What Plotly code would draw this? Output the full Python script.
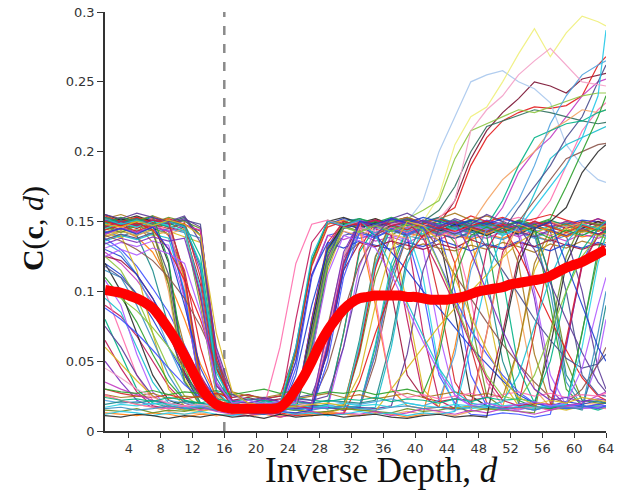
import plotly.graph_objects as go

# Inverse-depth samples at which the cost curves were read (every 2nd bin + last)
d_values = [1, 3, 5, 7, 9, 11, 13, 15, 17, 19, 21, 23, 25, 27, 29, 31, 33, 35, 37, 39, 41,
            43, 45, 47, 49, 51, 53, 55, 57, 59, 61, 63, 64]

# Per-pixel cost curves C(c, d), in units of 1e-3
curves_high = [
    [148,152,150,153,149,151,140,55, 20,17,18,16,60,122,148,152, 150,147,150,146,149,152,148,145, 150,147,149,146,150,148,151,150, 149],
    [142,138,145,140,143,139,135,45, 18,15,17,16,19,55,115,145, 150,146,148,143,147,144,140,138, 90,35,18,16,17,15,18,16, 17],
    [150,147,152,149,151,145,95,28, 17,16,18,15,17,19,60,125, 150,148,152,146,150,148,165,195, 215,228,238,250,247,242,252,255, 256],
    [138,130,118,102,85,62,38,24, 12,11,13,12,45,110,140,143, 138,141,145,139,100,40,20,12, 11,13,12,10,12,60,120,145, 150],
    [152,149,153,150,140,115,60,22, 18,16,17,19,16,18,17,70, 130,150,148,152,149,153,160,190, 210,222,228,232,231,233,240,262, 268],
    [145,149,146,150,147,151,148,45, 24,26,23,25,24,26,55,120, 148,145,150,147,151,148,146,150, 147,149,145,148,143,100,40,26, 25],
    [147,151,148,152,150,95,30,18, 16,17,15,16,17,80,135,150, 147,151,148,152,145,95,35,18, 16,17,19,70,130,148,145,150, 148],
    [140,144,139,128,108,80,48,25, 13,11,12,10,13,11,12,13, 60,120,148,142,139,144,140,137, 141,138,143,140,136,142,139,141, 140],
    [149,146,150,147,148,100,35,19, 17,16,18,15,17,70,130,148, 145,150,152,150,165,200,225,250, 255,258,250,245,235,205,190,180, 178],
    [150,153,149,145,100,35,18,16, 17,19,16,18,17,60,122,150, 147,152,148,150,146,151,149,145, 148,140,90,30,17,18,20,19, 20],
    [146,150,148,135,105,60,25,18, 16,17,15,18,16,17,75,125, 135,132,136,130,134,131,129,133, 130,135,132,128,134,131,136,133, 135],
    [151,148,152,149,153,150,145,50, 19,16,17,15,18,16,17,16, 55,110,140,147,143,148,135,80, 25,17,16,18,15,17,70,125, 140],
    [128,120,108,92,72,50,30,21, 17,15,16,14,50,112,140,137, 141,136,139,135,140,137,142,138, 145,160,185,200,210,225,240,250, 252],
    [153,150,140,115,75,35,20,17, 16,18,15,17,16,19,17,16, 65,125,148,145,149,143,147,144, 148,145,142,147,144,149,146,143, 145],
    [144,148,145,150,146,143,105,28, 22,24,21,23,22,65,128,150, 147,148,100,40,24,21,23,22, 24,70,125,148,150,145,150,148, 147],
    [139,143,140,145,141,110,35,20, 17,16,18,15,17,16,62,125, 146,142,147,144,140,145,141,146, 143,147,144,145,90,30,18,17, 18],
    [150,152,148,151,149,153,140,48, 19,17,16,18,17,55,118,146, 150,147,152,149,150,158,175,200, 218,222,226,230,228,225,222,220, 221],
    [147,143,148,145,149,144,90,26, 17,15,18,16,15,17,16,18, 17,60,115,145,148,143,147,150, 146,149,144,148,151,147,143,148, 146],
    [155,151,154,150,120,40,19,17, 16,15,17,16,55,120,150,153, 149,152,148,151,147,140,85,25, 18,16,17,19,60,120,145,150, 148],
    [142,146,143,147,144,105,32,19, 16,18,17,15,18,70,128,148, 151,147,150,146,149,152,148,151, 147,150,153,150,165,190,215,230, 235],
    [148,151,147,150,146,148,125,45, 18,16,17,15,18,16,17,15, 58,118,146,150,147,152,148,151, 150,110,45,20,17,16,18,15, 17],
    [143,139,144,141,145,142,138,50, 18,17,15,16,18,16,60,118, 142,139,143,140,137,141,138,143, 140,137,142,139,136,140,143,141, 140],
    [90,82,68,50,32,20,16,17, 15,16,18,17,15,80,132,150, 147,151,148,140,70,22,16,18, 70,128,150,146,149,145,150,147, 148],
    [136,140,137,141,138,100,28,18, 16,15,17,19,16,18,17,16, 17,62,120,145,141,146,142,139, 144,140,145,170,195,205,210,215, 218],
    [151,147,152,148,150,146,115,35, 17,16,18,15,16,62,124,148, 151,147,150,153,148,152,149,145, 150,147,140,95,30,18,17,19, 20],
    [140,144,141,145,110,38,18,16, 17,15,18,16,17,16,62,126, 145,148,144,147,150,168,205,225, 232,250,270,288,268,285,297,293, 290],
    [146,150,147,151,148,152,146,55, 21,17,16,18,15,17,58,120, 145,149,146,150,147,143,148,145, 149,146,150,147,143,140,100,45, 30],
    [131,135,132,136,133,95,30,18, 16,17,15,18,16,17,19,16, 60,118,140,137,130,70,25,18, 16,17,15,18,16,17,19,50, 80],
    [120,112,98,80,60,40,26,20, 17,16,15,17,50,112,135,131, 136,133,130,135,132,137,133,129, 134,131,136,132,129,134,131,135, 133],
    [145,140,115,70,30,18,16,17, 15,17,16,18,17,72,130,149, 146,150,145,90,30,17,16,18, 15,17,60,115,140,145,142,146, 144],
    [148,144,149,146,150,147,98,27, 18,16,17,15,17,19,16,18, 16,50,105,140,146,142,147,143, 148,145,150,165,180,195,200,205, 206],
    [141,145,142,146,143,98,31,19, 17,16,15,17,18,78,133,146, 143,147,144,148,145,145,100,40, 18,16,17,15,18,16,17,19, 18],
    [154,150,153,149,152,148,143,52, 19,16,17,15,18,16,17,16, 57,116,150,153,149,152,148,154, 150,153,149,152,155,151,148,152, 150],
    [137,141,138,142,112,42,19,17, 16,15,17,18,16,68,122,140, 143,139,144,140,145,141,138,142, 146,143,160,175,190,210,225,250, 262],
    [144,147,143,148,145,149,110,33, 18,16,17,15,16,17,64,124, 146,150,147,151,148,150,120,60, 20,17,16,18,15,65,120,140, 142],
    [150,146,151,148,152,108,33,19, 17,15,16,18,56,120,148,151, 145,90,30,18,16,17,60,120, 145,148,144,149,146,150,147,143, 145],
    [135,128,112,88,60,35,20,17, 15,18,16,17,16,18,60,121, 146,142,147,143,148,144,140,145, 141,146,142,138,143,147,144,140, 142],
    [139,143,140,144,141,145,92,26, 17,16,18,15,17,68,125,143, 140,145,141,138,143,139,144,148, 165,180,190,200,215,222,230,228, 230],
    [152,155,151,154,150,112,34,18, 16,17,15,18,16,17,16,19, 62,124,150,153,149,152,156,151, 154,150,120,55,20,17,16,18, 17],
    [146,142,147,143,105,36,18,17, 15,16,18,17,16,75,131,147, 143,148,144,149,145,141,146,142, 147,143,148,145,110,50,22,20, 20],
    [141,145,142,146,143,147,144,58, 20,17,15,16,18,16,17,15, 18,55,112,140,144,140,145,141, 138,143,139,144,140,136,141,138, 140],
    [153,149,152,148,151,147,118,38, 19,17,16,15,17,60,120,150, 152,148,151,147,150,153,149,150, 110,50,20,17,16,18,15,60, 90],
    [125,122,112,95,70,42,24,17, 16,18,15,17,16,18,58,115, 135,132,136,133,130,134,131,137, 133,130,135,132,137,133,130,134, 132],
    [110,96,78,55,35,22,18,15, 16,18,17,15,17,70,127,149, 145,150,146,151,147,143,148,145, 150,146,151,148,152,175,200,225, 240],
    [145,149,146,150,147,143,102,29, 17,16,18,15,17,16,18,16, 62,120,148,145,110,45,18,16, 17,15,18,16,17,19,16,18, 17],
    [149,153,150,154,122,45,20,16, 17,15,18,16,58,122,151,148, 152,149,153,150,147,151,148,145, 140,70,22,17,16,18,70,130, 145],
]

curves_mid = [
    [120,100,70,40,22,18,16,17, 15,17,16,18,16,75,130,148, 145,149,146,142,147,143,148,144, 140,145,141,146,143,139,144,141, 143],
    [100,70,40,22,17,16,18,15, 17,16,18,15,17,16,65,125, 145,141,146,142,147,143,139,95, 35,18,16,17,15,18,16,17, 16],
    [80,55,30,20,17,15,16,18, 16,17,15,18,16,17,19,70, 128,146,143,148,144,149,145,142, 147,165,190,210,215,220,222,228, 230],
    [115,110,90,65,40,22,17,16, 18,15,17,16,18,15,17,16, 18,55,110,140,145,141,146,142, 147,143,148,140,100,35,18,17, 18],
    [65,45,28,18,16,17,15,16, 18,17,15,16,80,135,150,146, 149,145,140,80,25,17,16,70, 130,148,145,150,147,143,148,144, 146],
    [95,85,60,35,20,17,16,18, 15,17,16,18,15,17,16,18, 16,17,60,120,145,148,144,149, 145,141,146,142,147,143,140,145, 143],
    [50,35,22,17,16,18,15,17, 16,18,17,15,16,17,62,124, 148,151,147,152,148,145,150,146, 151,148,144,149,146,150,147,152, 149],
    [125,115,95,70,45,25,18,16, 17,15,18,16,17,70,128,146, 143,148,150,152,158,165,195,215, 220,225,230,228,232,236,240,242, 242],
    [75,60,40,25,18,16,17,15, 16,18,15,17,16,18,17,15, 17,16,18,55,115,145,141,146, 142,147,143,139,144,140,145,141, 143],
    [108,90,55,28,17,16,18,15, 17,16,18,15,17,16,17,60, 118,145,149,145,150,146,142,147, 144,148,145,100,40,18,16,17, 18],
    [130,125,112,95,75,52,32,20, 15,13,14,12,40,90,130,145, 148,140,128,115,100,88,74,60, 48,36,26,20,18,21,19,22, 20],
    [60,48,36,25,18,15,14,16, 13,15,14,16,15,14,13,16, 15,14,30,45,60,75,88,100, 112,124,135,142,146,143,148,145, 147],
    [140,136,130,122,110,95,75,50, 28,20,18,21,19,20,45,85, 120,140,147,150,146,130,112,95, 78,62,48,35,24,20,30,48, 60],
    [88,80,70,58,45,33,24,19, 17,15,16,14,17,15,50,110, 142,138,145,141,146,120,95,72, 55,40,28,20,17,19,18,16, 18],
    [150,147,149,144,130,108,80,45, 22,14,12,13,11,12,14,12, 35,70,100,125,140,146,143,147, 150,146,128,104,80,58,38,25, 22],
    [118,110,98,84,68,50,34,22, 16,18,20,17,19,70,125,147, 150,146,149,152,148,144,150,147, 132,115,98,80,65,52,45,48, 55],
]

curves_low = [
    [30,27,25,24,26,23,25,27, 24,26,23,25,58,118,146,150, 147,151,148,144,149,145,150,146, 143,148,145,150,146,142,147,144, 146],
    [13,12,11,13,12,10,12,11, 12,11,13,10,12,11,13,12, 11,13,12,10,12,60,120,145, 141,146,142,147,143,139,144,140, 142],
    [22,20,21,19,22,20,18,21, 19,22,20,18,21,19,22,20, 19,21,23,20,18,22,55,115, 145,150,165,190,220,240,255,262, 265],
    [25,22,19,17,14,12,13,11, 12,14,12,11,13,12,14,12, 11,13,12,14,12,13,11,14, 70,125,148,145,150,146,149,144, 147],
    [26,24,25,27,23,25,24,26, 28,25,24,26,23,25,27,24, 26,23,25,27,24,26,28,25, 27,24,60,120,145,148,143,147, 145],
    [15,14,16,13,15,14,16,15, 13,15,14,16,15,13,14,16, 15,14,13,16,14,15,17,14, 16,15,14,13,70,125,150,148, 150],
    [35,30,26,22,20,18,17,14, 12,11,13,10,12,14,11,13, 12,14,11,13,16,14,12,15, 13,16,14,12,15,18,20,25, 28],
    [19,21,20,22,19,21,20,18, 21,20,22,19,21,20,22,21, 20,22,65,125,150,147,151,146, 149,145,150,146,110,40,22,21, 20],
    [12,14,13,11,13,12,14,12, 11,13,12,14,12,13,11,12, 14,12,13,11,13,12,14,60, 110,140,145,160,175,190,210,240, 287],
    [30,28,27,29,26,28,27,29, 26,28,30,27,29,26,28,27, 29,26,28,30,27,55,110,140, 146,142,147,143,138,144,140,145, 142],
    [17,19,18,20,19,17,18,20, 19,17,18,20,19,17,18,20, 18,19,17,20,18,17,19,18, 20,18,19,17,18,19,60,120, 140],
    [45,38,30,24,20,18,19,17, 18,20,19,17,18,19,70,125, 146,143,148,150,147,152,165,215, 230,240,255,265,274,262,250,248, 247],
    [11,10,12,11,9,11,10,12, 10,11,9,12,10,11,12,10, 11,12,10,9,11,12,10,11, 10,65,120,145,150,160,185,200, 205],
    [26,22,19,17,16,18,15,17, 16,18,17,60,120,148,151,147, 150,95,30,24,26,23,25,27, 24,26,28,25,27,24,26,25, 27],
    [24,22,23,21,24,22,20,23, 21,23,22,20,24,22,21,23, 22,24,21,23,22,20,23,21, 24,22,23,21,50,100,130,145, 142],
    [16,17,15,16,18,16,17,15, 17,16,18,17,15,17,16,18, 16,15,17,18,16,17,15,17, 18,16,17,15,18,17,16,70, 100],
]

curves_extra = [
    [146,150,147,151,149,112,40,20, 18,16,19,17,18,16,60,120, 148,151,147,150,138,115,90,62, 38,22,18,20,19,62,118,140, 145],
    [152,148,151,147,150,146,120,42, 20,18,21,19,60,125,150,147, 151,140,118,92,68,45,28,20, 18,21,40,75,110,135,148,145, 150],
    [134,138,135,139,136,138,98,32, 22,20,23,21,22,20,72,128, 150,146,152,148,151,147,150,128, 100,72,48,30,22,24,21,23, 22],
    [100,95,86,74,60,44,30,21, 19,17,18,16,18,64,120,146, 142,147,143,148,144,120,92,64, 40,25,22,40,70,100,125,140, 138],
    [155,152,156,153,150,154,135,60, 26,22,24,21,23,22,25,60, 110,140,152,156,150,146,152,148, 155,150,146,130,106,80,56,35, 28],
    [125,130,126,131,127,120,85,35, 20,22,19,21,20,55,112,140, 136,131,112,88,64,42,26,18, 20,17,19,21,18,20,45,90, 110],
    [142,145,141,146,130,90,45,22, 15,13,12,14,13,15,60,115, 150,148,152,149,153,150,147,151, 148,152,149,145,150,120,90,60, 50],
    [148,146,150,147,151,148,140,70, 28,20,18,19,17,19,20,18, 40,90,130,150,147,136,110,82, 58,38,24,19,22,20,24,22, 21],
]

# Mean cost over all pixels, one value per inverse-depth bin d = 1..64 (units of 1e-3)
mean_d = list(range(1, 65))
mean_cost = [101,100,99,97,95,92,88,81,73,64,54,43,32,24,19,17,
             16,16,16,16,16,16,17,22,30,39,50,62,72,80,87,92,
             95,96,97,97,97,97,96,96,95,94,94,94,95,96,98,100,
             101,102,103,105,106,107,108,109,111,114,117,119,121,124,127,130]

gt_depth = 16
y_ticks = [0, 0.05, 0.1, 0.15, 0.2, 0.25, 0.3]
y_tick_text = ["0", "0.05", "0.1", "0.15", "0.2", "0.25", "0.3"]
x_ticks = list(range(4, 65, 4))

palette = ['#1f3fd0', '#1aa34a', '#d62728', '#17becf', '#c33bc3', '#d9b81f', '#2b2b2b',
           '#ff7f0e', '#7b2fbf', '#1b8a8a', '#8c564b', '#ff6fae', '#4fa3e0', '#8cc63f',
           '#a0153e', '#3f51ff', '#00b386', '#f4a261', '#5e3c99', '#2ca02c', '#e41a1c',
           '#3a8fc4', '#a6761d', '#b15cff', '#2ad4e6', '#4b4f8f', '#c2185b', '#6b8e23']
special = {2: '#7a1030', 8: '#a9c8ee', 25: '#f0f07a', 16: '#2f6f5f', 73: '#f4a0c8', 70: '#22c8e8'}

fig = go.Figure()
all_curves = curves_high + curves_mid + curves_low + curves_extra
for i, c in enumerate(all_curves):
    col = special.get(i, palette[(i * 5) % len(palette)])
    fig.add_trace(go.Scatter(
        x=d_values, y=[v / 1000 for v in c], mode='lines',
        line=dict(color=col, width=1.2), opacity=0.9,
        showlegend=False, hoverinfo='skip'))

fig.add_trace(go.Scatter(
    x=mean_d, y=[v / 1000 for v in mean_cost], mode='lines',
    line=dict(color='#ff0000', width=10, shape='spline'),
    showlegend=False))

fig.add_shape(type='line', x0=gt_depth, x1=gt_depth, y0=0, y1=0.3,
              line=dict(color='#8a8a8a', width=2.5, dash='dash'), layer='below')

axis_font = dict(family='DejaVu Sans', size=13, color='#333333')
fig.update_xaxes(range=[1, 64], tickvals=x_ticks, ticks='outside', ticklen=5,
                 tickcolor='#333333', showline=True, linecolor='#333333', linewidth=1.5,
                 showgrid=False, zeroline=False, tickfont=axis_font, automargin=False)
fig.update_yaxes(range=[0, 0.3], tickvals=y_ticks, ticktext=y_tick_text, ticks='outside',
                 ticklen=6, tickcolor='#333333', showline=True, linecolor='#333333',
                 linewidth=1.5, showgrid=False, zeroline=False, tickfont=axis_font,
                 automargin=False)

fig.add_annotation(text='Inverse Depth, <i>d</i>', xref='paper', yref='paper',
                   x=0.551, y=-0.094, xanchor='center', yanchor='middle', showarrow=False,
                   font=dict(family='Liberation Serif', size=35, color='#111111'))
fig.add_annotation(text='<b>C</b>(<b>c</b>, <i>d</i>)', xref='paper', yref='paper',
                   x=-0.1437, y=0.482, xanchor='center', yanchor='middle', showarrow=False,
                   textangle=-90,
                   font=dict(family='Liberation Serif', size=30, color='#111111'))

fig.update_layout(width=624, height=490, margin=dict(l=105, r=18, t=12, b=59, autoexpand=False),
                  plot_bgcolor='white', paper_bgcolor='white')

fig.write_html("out.html", config={'displayModeBar': False},
               post_script="document.body.style.margin='0';document.body.style.overflow='hidden';")
